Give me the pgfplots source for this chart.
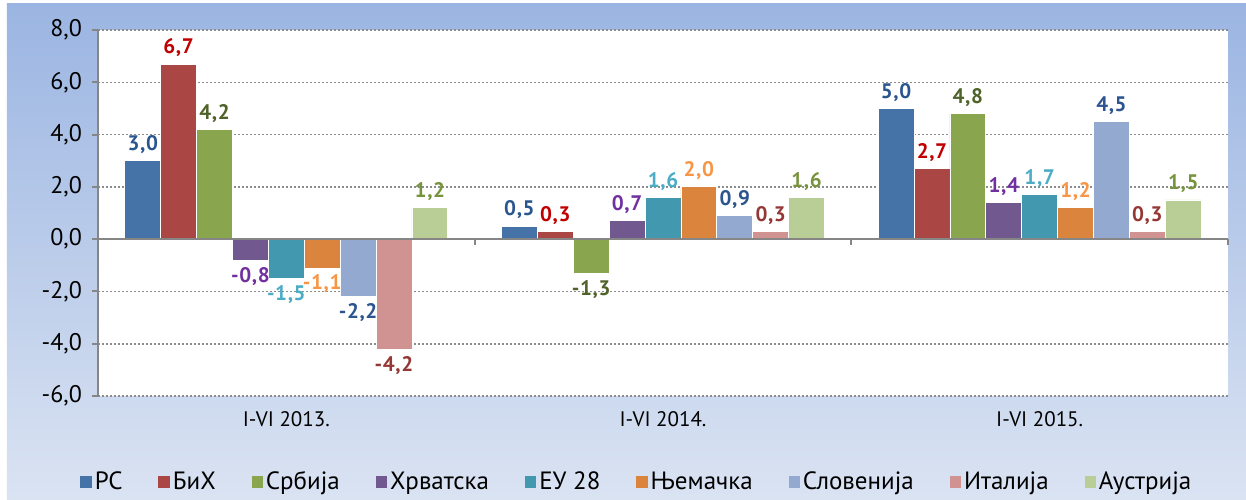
\documentclass[border=0pt]{standalone}
\usepackage{fontspec}
\setmainfont{PT Sans}
\newfontfamily\labfamily[LetterSpace=3]{PT Sans}
\usepackage{pgfplots}
\pgfplotsset{compat=1.18}
\definecolor{c1}{HTML}{4572A7}
\definecolor{c2}{HTML}{AA4643}
\definecolor{c3}{HTML}{89A54E}
\definecolor{c4}{HTML}{71588F}
\definecolor{c5}{HTML}{4198AF}
\definecolor{c6}{HTML}{DB843D}
\definecolor{c7}{HTML}{93A9CF}
\definecolor{c8}{HTML}{D19392}
\definecolor{c9}{HTML}{B9CD96}
\definecolor{l1}{HTML}{2A5690}
\definecolor{l2}{HTML}{C00000}
\definecolor{l3}{HTML}{4F6228}
\definecolor{l4}{HTML}{7030A0}
\definecolor{l5}{HTML}{4BACC6}
\definecolor{l6}{HTML}{F79646}
\definecolor{l7}{HTML}{2C5590}
\definecolor{l8}{HTML}{953735}
\definecolor{l9}{HTML}{77933C}
\definecolor{bgtop}{HTML}{9BB5E2}
\definecolor{bgbot}{HTML}{DAE3F2}
\definecolor{axisgray}{HTML}{868686}
\definecolor{gridgray}{HTML}{8C8C8C}
\pgfplotsset{
  sq legend/.style={legend image code/.code={\fill[##1,draw=none] (0pt,-2.9pt) rectangle (5.8pt,2.9pt);}},
}
\begin{document}
\begin{tikzpicture}[x=1pt,y=1pt]
\path[use as bounding box] (-49,-51.5) rectangle (574,198);
\shade[top color=bgtop, bottom color=bgbot] (-45.5,-51.5) rectangle (574,196);
\begin{axis}[
  at={(0,0)}, anchor=south west, scale only axis,
  width=565pt, height=183pt,
  xmin=-0.5, xmax=2.5, ymin=-6, ymax=8,
  clip=false,
  ybar=0pt, bar width=0.0953,
  axis background/.style={fill=white},
  axis lines*=left,
  x axis line style={draw=none},
  y axis line style={draw=axisgray, line width=1pt},
  ytick={-6,-4,...,8},
  ytick style={draw=axisgray, line width=1pt},
  tick align=outside, major tick length=3pt,
  xtick={0,1,2},
  xticklabels={I-VI 2013., I-VI 2014., I-VI 2015.},
  xtick style={draw=none},
  ymajorgrids,
  major grid style={gridgray, line width=0.8pt, dash pattern=on 0.8pt off 1.2pt},
  xticklabel style={font=\fontsize{10.5}{12}\selectfont, yshift=-1pt},
  yticklabel style={font=\fontsize{12}{14}\selectfont, xshift=-1.5pt,
    /pgf/number format/.cd, fixed, fixed zerofill, precision=1, use comma, assume math mode=true},
  nodes near coords={\pgfmathprintnumber[fixed,fixed zerofill,precision=1,use comma,assume math mode=true]{\pgfplotspointmeta}},
  every node near coord/.append style={font=\labfamily\bfseries\fontsize{10.5}{12}\selectfont},
  legend columns=9,
  legend cell align=left,
  legend style={at={(-0.0159,-0.235)}, anchor=west, draw=none, fill=none,
    inner sep=0pt, font=\fontsize{12.5}{14}\selectfont,
    nodes={inner sep=1.4pt},
    /tikz/every even column/.append style={column sep=16.5pt}},
]
\addplot[fill=c1, draw=white, line width=0.4pt, sq legend, every node near coord/.append style={text=l1}] coordinates {(0,3.0) (1,0.5) (2,5.0)};
\addplot[fill=c2, draw=white, line width=0.4pt, sq legend, every node near coord/.append style={text=l2}] coordinates {(0,6.7) (1,0.3) (2,2.7)};
\addplot[fill=c3, draw=white, line width=0.4pt, sq legend, every node near coord/.append style={text=l3}] coordinates {(0,4.2) (1,-1.3) (2,4.8)};
\addplot[fill=c4, draw=white, line width=0.4pt, sq legend, every node near coord/.append style={text=l4}] coordinates {(0,-0.8) (1,0.7) (2,1.4)};
\addplot[fill=c5, draw=white, line width=0.4pt, sq legend, every node near coord/.append style={text=l5}] coordinates {(0,-1.5) (1,1.6) (2,1.7)};
\addplot[fill=c6, draw=white, line width=0.4pt, sq legend, every node near coord/.append style={text=l6}] coordinates {(0,-1.1) (1,2.0) (2,1.2)};
\addplot[fill=c7, draw=white, line width=0.4pt, sq legend, every node near coord/.append style={text=l7}] coordinates {(0,-2.2) (1,0.9) (2,4.5)};
\addplot[fill=c8, draw=white, line width=0.4pt, sq legend, every node near coord/.append style={text=l8}] coordinates {(0,-4.2) (1,0.3) (2,0.3)};
\addplot[fill=c9, draw=white, line width=0.4pt, sq legend, every node near coord/.append style={text=l9}] coordinates {(0,1.2) (1,1.6) (2,1.5)};
\legend{РС, БиХ, Србија, Хрватска, ЕУ 28, Њемачка, Словенија, Италија, Аустрија}
\draw[axisgray, line width=1pt] (axis cs:-0.5,0) -- (axis cs:2.5,0);
\draw[axisgray, line width=1pt] (axis cs:0.5,0) -- ([yshift=-3pt]axis cs:0.5,0);
\draw[axisgray, line width=1pt] (axis cs:1.5,0) -- ([yshift=-3pt]axis cs:1.5,0);
\draw[axisgray, line width=1pt] (axis cs:2.5,0) -- ([yshift=-3pt]axis cs:2.5,0);
\end{axis}
\end{tikzpicture}
\end{document}
